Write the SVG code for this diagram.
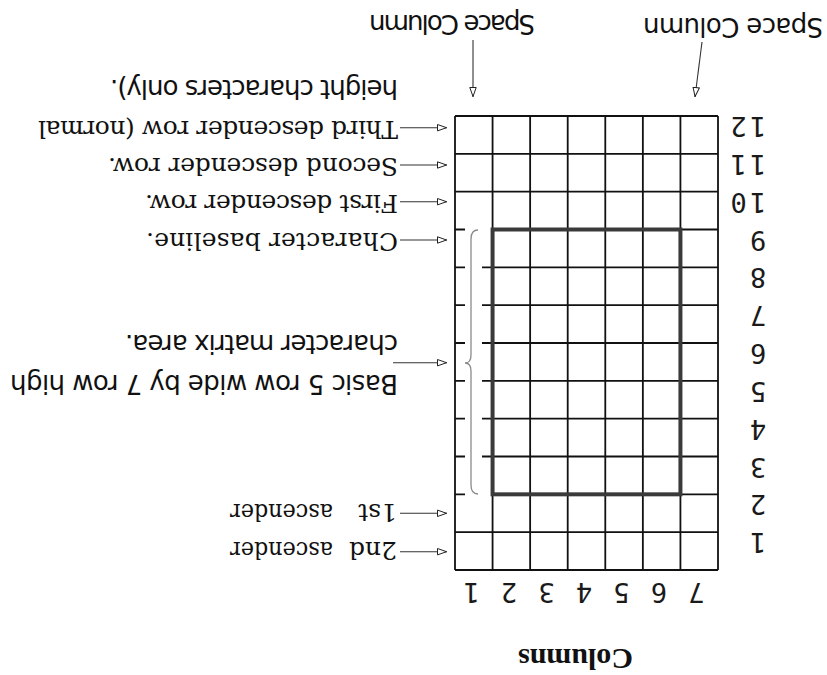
<svg xmlns="http://www.w3.org/2000/svg" width="827" height="675" viewBox="0 0 827 675">
<defs>
<style>
.grid{stroke:#111;stroke-width:1.8;fill:none}
.thick{stroke:#3a3a3a;stroke-width:4;fill:none}
.brace{stroke:#8a8a8a;stroke-width:1.3;fill:none}
.conn{stroke:#333;stroke-width:1.1;fill:none;marker-end:url(#ah)}
.num{font-family:"DejaVu Sans Mono",monospace;font-size:27px;fill:#1a1a1a;text-anchor:middle}
.serif{font-family:"DejaVu Serif",serif;font-size:25px;fill:#111}
.sans{font-family:"DejaVu Sans",sans-serif;font-size:26px;fill:#111}
.head{font-family:"Liberation Serif",serif;font-weight:bold;font-size:30px;fill:#111;text-anchor:middle}
</style>
<marker id="ah" viewBox="0 0 10 8" refX="10" refY="4" markerWidth="10" markerHeight="8" markerUnits="userSpaceOnUse" orient="auto">
<path d="M0.5,0.8 L9.5,4 L0.5,7.2 Z" fill="#fff" stroke="#222" stroke-width="1"/>
</marker>
</defs>
<rect width="827" height="675" fill="#fff"/>
<g transform="rotate(180 413.5 337.5)">
<g id="grid">
<path class="grid" d="M109,105 V559 M146.57,105 V559 M184.14,105 V559 M221.71,105 V559 M259.29,105 V559 M296.86,105 V559 M334.43,105 V559 M372,105 V559
M109,105 H372 M109,142.83 H372 M109,483.33 H372 M109,521.17 H372 M109,559 H372
M109,180.67 H334.43 M109,218.5 H334.43 M109,256.33 H334.43 M109,294.17 H334.43 M109,332 H334.43 M109,369.83 H334.43 M109,407.67 H334.43 M109,445.5 H334.43
M362,180.67 H372 M362,218.5 H372 M362,256.33 H372 M362,294.17 H372 M362,332 H372 M362,369.83 H372 M362,407.67 H372 M362,445.5 H372
M334.43,218.5 H345 M334.43,256.33 H345 M334.43,294.17 H345 M334.43,332 H345 M334.43,369.83 H345 M334.43,407.67 H345"/>
</g>
<g id="matrix">
<rect class="thick" x="146.57" y="180.67" width="187.86" height="264.83"/>
<path class="brace" d="M349,181 Q356,181 356,190 L356,304 Q356,312 362,312 Q356,312 356,320 L356,436 Q356,445 349,445"/>
</g>
<g id="row-numbers">
<text class="num" x="69" y="141.8">1</text>
<text class="num" x="69" y="179.7">2</text>
<text class="num" x="69" y="217.5">3</text>
<text class="num" x="69" y="255.3">4</text>
<text class="num" x="69" y="293.2">5</text>
<text class="num" x="69" y="331">6</text>
<text class="num" x="69" y="368.8">7</text>
<text class="num" x="69" y="406.7">8</text>
<text class="num" x="69" y="444.5">9</text>
<text class="num" x="69 88.5" y="482.3">10</text>
<text class="num" x="69 88.5" y="520.2">11</text>
<text class="num" x="69 88.5" y="558">12</text>
</g>
<g id="column-numbers">
<text class="num" x="130.7" y="92">7</text>
<text class="num" x="168.1" y="92">6</text>
<text class="num" x="205.6" y="92">5</text>
<text class="num" x="243" y="92">4</text>
<text class="num" x="280.4" y="92">3</text>
<text class="num" x="317.9" y="92">2</text>
<text class="num" x="355.3" y="92">1</text>
</g>
<g id="columns-title">
<text class="head" x="251.5" y="26" textLength="115">Columns</text>
</g>
<g id="space-column-left">
<text class="sans" x="4" y="657" font-size="27" textLength="180">Space Column</text>
</g>
<g id="space-column-right">
<text class="sans" x="292" y="660" font-size="25" textLength="166">Space Column</text>
</g>
<g id="label-third">
<text class="serif" x="429" y="554" textLength="360">Third descender row (normal</text>
<text class="sans" x="429" y="595" textLength="288">height characters only).</text>
</g>
<g id="label-second">
<text class="serif" x="429" y="517" textLength="290">Second descender row.</text>
</g>
<g id="label-first">
<text class="serif" x="429" y="480" textLength="253">First descender row.</text>
</g>
<g id="label-baseline">
<text class="serif" x="429" y="442" textLength="252">Character baseline.</text>
</g>
<g id="label-basic">
<text class="sans" x="429" y="300" textLength="388">Basic 5 row wide by 7 row high</text>
<text class="sans" x="429" y="340" textLength="273">character matrix area.</text>
</g>
<g id="label-1st-ascender">
<text class="serif" x="430" y="171" font-size="24">1st<tspan x="494" textLength="103" lengthAdjust="spacingAndGlyphs">ascender</tspan></text>
</g>
<g id="label-2nd-ascender">
<text class="serif" x="430" y="133" font-size="24">2nd<tspan x="494" textLength="103" lengthAdjust="spacingAndGlyphs">ascender</tspan></text>
</g>
<g id="connectors">
<line class="conn" x1="427" y1="547.3" x2="380" y2="547.3"/>
<line class="conn" x1="427" y1="510" x2="380" y2="510"/>
<line class="conn" x1="427" y1="473.3" x2="380" y2="473.3"/>
<line class="conn" x1="427" y1="435" x2="380" y2="435"/>
<line class="conn" x1="434" y1="312.3" x2="380" y2="312.3"/>
<line class="conn" x1="427" y1="161.7" x2="380" y2="161.7"/>
<line class="conn" x1="427" y1="123.3" x2="380" y2="123.3"/>
<line class="conn" x1="125" y1="633" x2="132" y2="578"/>
<line class="conn" x1="354" y1="635" x2="354" y2="578"/>
</g>
</g>
</svg>
